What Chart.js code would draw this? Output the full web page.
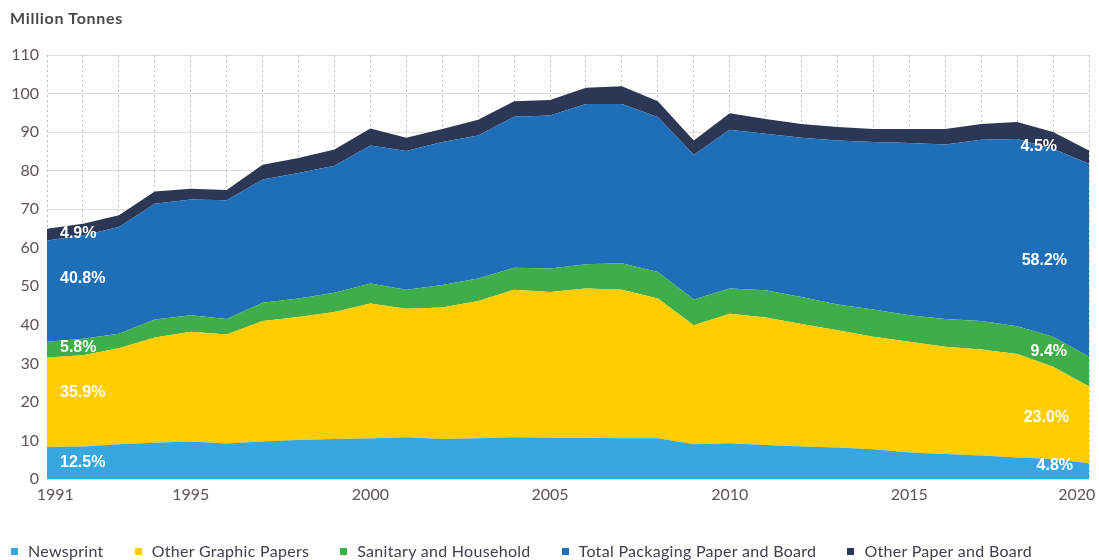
<!DOCTYPE html>
<html><head><meta charset="utf-8">
<script src="https://cdn.jsdelivr.net/npm/chart.js@4.4.1/dist/chart.umd.min.js"></script>
<style>
html,body{margin:0;padding:0;background:#fff;}
#wrap{position:relative;width:1099px;height:560px;overflow:hidden;}
#title{position:absolute;left:10px;top:8px;font:700 16px Lato;letter-spacing:0.7px;color:#4a4a4a;}
#legend{position:absolute;left:11px;top:541px;display:flex;gap:31px;font:16px Lato;letter-spacing:0.3px;color:#3d4050;white-space:nowrap;}
.item{display:flex;align-items:center;line-height:20px;}
.sw{width:7px;height:7px;margin-right:10px;}
</style></head><body>
<div id="wrap"><canvas id="c" width="1099" height="560"></canvas><div id="title">Million Tonnes</div><div id="legend"></div></div>
<script>
const years = ['1991','1992','1993','1994','1995','1996','1997','1998','1999','2000','2001','2002','2003','2004','2005','2006','2007','2008','2009','2010','2011','2012','2013','2014','2015','2016','2017','2018','2019','2020'];
const tickYears = ['1991','1995','2000','2005','2010','2015','2020'];
const yTicks = [0,10,20,30,40,50,60,70,80,90,100,110];
const seriesNames = ['Newsprint','Other Graphic Papers','Sanitary and Household','Total Packaging Paper and Board','Other Paper and Board'];
const newsprint = [8.3,8.4,9.0,9.4,9.7,9.2,9.7,10.1,10.4,10.5,10.8,10.4,10.6,10.8,10.7,10.7,10.6,10.6,9.0,9.3,8.8,8.4,8.2,7.7,6.9,6.5,6.1,5.6,5.2,4.1];
const otherGraphic = [23.2,23.7,24.9,27.3,28.5,28.3,31.3,31.9,32.9,35.0,33.4,34.1,35.6,38.3,37.8,38.7,38.5,36.2,30.9,33.6,33.1,31.8,30.4,29.2,28.7,27.8,27.5,26.8,23.9,19.9];
const sanitary = [4.1,4.3,3.8,4.7,4.3,4.0,4.7,4.8,5.0,5.2,4.9,5.8,5.8,5.7,6.1,6.3,6.9,6.9,6.7,6.5,7.1,7.0,6.7,7.1,6.9,7.2,7.4,7.2,7.8,7.7];
const packaging = [26.3,26.8,27.7,30.0,30.0,30.8,32.0,32.6,33.0,35.8,36.0,37.1,37.1,39.2,39.7,41.6,41.3,40.2,37.5,41.2,40.6,41.3,42.5,43.4,44.7,45.3,47.0,48.6,48.8,50.1];
const otherPaper = [3.0,3.0,3.0,3.2,2.8,2.7,3.8,3.9,4.2,4.4,3.4,3.4,4.1,4.0,4.0,4.2,4.6,4.1,3.7,4.3,3.8,3.6,3.5,3.4,3.6,4.0,4.1,4.4,4.3,3.4];
const sharesStart = ['12.5%','35.9%','5.8%','40.8%','4.9%'];
const sharesEnd = ['4.8%','23.0%','9.4%','58.2%','4.5%'];

const colors = ['#38a7df','#ffcd00','#3fae4a','#1e6fb8','#2c3655'];
const allSeries = [newsprint, otherGraphic, sanitary, packaging, otherPaper];

const style = {
  startNudge:[0,-10,-2,-12,-1],
  endNudge:[-3,5,0,18,6],
  endXNudge:[6,2,0,0,-10],
  endIndex:28
};

const shareLabelPlugin = {
  id:'shareLabels',
  afterDraw(chart){
    const ctx = chart.ctx, xs = chart.scales.x, ys = chart.scales.y;
    ctx.save();
    ctx.fillStyle = '#ffffff';
    ctx.font = 'bold 16px "Liberation Sans", Arial, sans-serif';
    ctx.textBaseline = 'middle';
    const mid = (d,i) => {
      let b = 0; for (let k=0;k<d;k++) b += allSeries[k][i];
      return b + allSeries[d][i]/2;
    };
    for (let d=0; d<allSeries.length; d++){
      ctx.textAlign = 'left';
      ctx.fillText(sharesStart[d], xs.getPixelForValue(0)+13, ys.getPixelForValue(mid(d,0))+style.startNudge[d]);
      ctx.textAlign = 'right';
      ctx.fillText(sharesEnd[d], xs.getPixelForValue(years.length-1)-22+style.endXNudge[d], ys.getPixelForValue(mid(d,style.endIndex))+style.endNudge[d]);
    }
    ctx.restore();
  }
};

const datasets = allSeries.map((s,i)=>({
  label: seriesNames[i],
  data: s,
  backgroundColor: colors[i],
  borderColor: colors[i],
  borderWidth: 0,
  pointRadius: 0,
  tension: 0,
  fill: i===0 ? 'origin' : '-1'
}));

const chart = new Chart(document.getElementById('c'), {
  type:'line',
  data:{labels:years, datasets},
  plugins:[shareLabelPlugin],
  options:{
    responsive:false,
    animation:false,
    devicePixelRatio:1,
    layout:{padding:{left:10,right:10,top:55,bottom:51}},
    plugins:{legend:{display:false},tooltip:{enabled:false},title:{display:false}},
    scales:{
      x:{
        z:1,
        grid:{color:'rgba(70,70,70,0.35)',lineWidth:1,drawTicks:false},
        border:{display:false,dash:[2,3]},
        ticks:{
          autoSkip:false,maxRotation:0,align:'center',padding:6,
          color:'#5b5652',font:{family:'Lato',size:16},
          callback(v,i){
            const l=years[i];
            if(!tickYears.includes(l)) return '';
            if(i===0) return '    '+l;
            if(i===years.length-1) return l+'      ';
            return l;
          }
        },
        afterFit(s){s.height=30;s.paddingLeft=0;s.paddingRight=0;}
      },
      y:{
        z:1,
        stacked:true,
        min:0,max:110,
        afterBuildTicks(s){s.ticks=yTicks.map(v=>({value:v}));},
        grid:{color:'rgba(150,110,95,0.25)',lineWidth:1,drawTicks:false},
        border:{display:false},
        ticks:{padding:8,color:'#5b5652',font:{family:'Lato',size:16}},
        afterFit(s){s.width=37;}
      }
    }
  }
});

const leg = document.getElementById('legend');
chart.data.datasets.forEach(ds=>{
  const it = document.createElement('div'); it.className='item';
  const sw = document.createElement('span'); sw.className='sw'; sw.style.background=ds.backgroundColor;
  const tx = document.createElement('span'); tx.textContent=ds.label;
  it.appendChild(sw); it.appendChild(tx); leg.appendChild(it);
});
</script>
</body></html>
